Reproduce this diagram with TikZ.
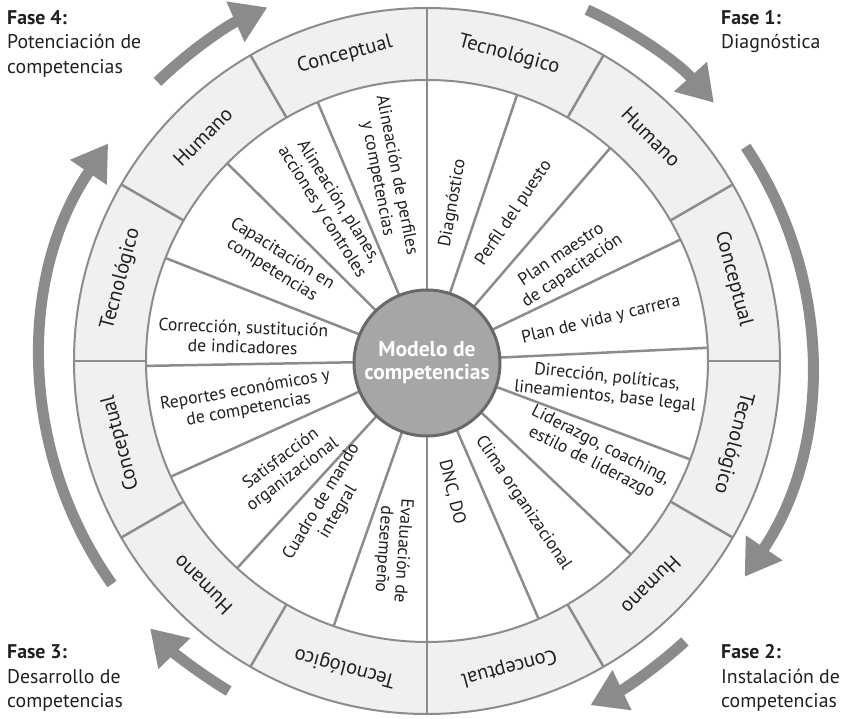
\documentclass[tikz,border=0pt]{standalone}
\usepackage{fontspec}
\setmainfont{PT Sans}
\usetikzlibrary{arrows.meta}
\definecolor{ringgray}{RGB}{140,140,142}
\definecolor{bandfill}{RGB}{240,240,242}
\definecolor{hubfill}{RGB}{166,166,168}
\definecolor{hubline}{RGB}{105,105,107}
\definecolor{arrowgray}{RGB}{138,139,141}
\definecolor{textgray}{RGB}{35,31,32}

\tikzset{
  wedge/.style={align=center, inner sep=0pt, text=textgray, font=\fontsize{17.6}{19.5}\selectfont},
  bandlabel/.style={inner sep=0pt, text=textgray, font=\fontsize{20.5}{22}\selectfont},
  phase/.style={anchor=north west, align=left, inner sep=0pt, text=textgray, font=\fontsize{19.8}{24.5}\selectfont},
  cycle arrow/.style={draw=arrowgray, line width=11pt, -{Triangle[length=35pt,width=42pt]}},
  divider/.style={draw=ringgray, line width=2.5pt},
}

\begin{document}
\begin{tikzpicture}[x=1pt, y=1pt]
\useasboundingbox (-427,-358) rectangle (415,361);

% outer ring
\fill[bandfill] (0,0) circle[radius=353];
\fill[white] (0,0) circle[radius=281];
\draw[ringgray, line width=2pt] (0,0) circle[radius=353];
\draw[ringgray, line width=2pt] (0,0) circle[radius=281];
\foreach \a in {0,30,...,330}
  \draw[divider] (\a:281) -- (\a:353);

% spokes
\foreach \a in {90,71.3,49.3,25.6,2.7,-20.5,-43.5,-66.6,-90,-109.4,-132.5,-155.7,181,158.5,135.3,112.9}
  \draw[divider] (0,0) -- (\a:281);

% hub
\node[circle, draw=hubline, line width=3pt, fill=hubfill, minimum size=146pt, inner sep=0pt,
  text=white, font=\bfseries\fontsize{21.5}{23}\selectfont, align=center] (hub) at (0,-2) {Modelo de\\competencias};

% ring labels
\foreach \q in {0,...,3}
  \foreach \i/\lab in {0/Tecnológico,1/Humano,2/Conceptual}
    \node[bandlabel, rotate={75-90*\q-30*\i-90}] (band-\q-\i) at ({75-90*\q-30*\i}:317) {\lab};

% wedge texts
\foreach \x/\y/\rot/\txt [count=\n] in {
    26/158/80/Diagnóstico,
    87/148/56/Perfil del puesto,
    140/98/34/{Plan maestro\\de capacitación},
    174/41/13.5/Plan de vida y carrera,
    179/-26/-6/{Dirección, políticas,\\lineamientos, base legal},
    169/-93/-27/{Liderazgo, coaching,\\estilo de liderazgo},
    96/-142/-56/Clima organizacional,
    25/-131/-76/{DNC, DO},
    -34/-189/-94/{Evaluación de\\desempeño},
    -97/-146/59/{Cuadro de mando\\integral},
    -140/-106/37/{Satisfacción\\organizacional},
    -180/-39/10/{Reportes económicos y\\de competencias},
    -184/24/-2/{Corrección, sustitución\\de indicadores},
    -150/99/-32/{Capacitación en\\competencias},
    -97/154/-58/{Alineación, planes,\\acciones y controles},
    -40/184/-79/{Alineación de perfiles\\y competencias}}
  \node[wedge, rotate=\rot] (wedge\n) at (\x,\y) {\txt};

% cycle arrows
\draw[cycle arrow] (134:388) arc[start angle=134, end angle=114.3, radius=388pt];
\draw[cycle arrow] (65.5:386) arc[start angle=65.5, end angle=42, radius=386pt];
\draw[cycle arrow] (33.9:384) arc[start angle=33.9, end angle=-34.2, radius=384pt];
\draw[cycle arrow] (-47.4:381) arc[start angle=-47.4, end angle=-64.6, radius=381pt];
\draw[cycle arrow] (-121:385) arc[start angle=-121, end angle=-136, radius=385pt];
\draw[cycle arrow] (-144.7:386) arc[start angle=-144.7, end angle=-214.3, radius=386pt];

% phase labels
\node[phase] (fase4) at (-420,351) {\textbf{Fase 4:}\\Potenciación de\\competencias};
\node[phase] (fase1) at (294,351) {\textbf{Fase 1:}\\Diagnóstica};
\node[phase] (fase2) at (294,-283.5) {\textbf{Fase 2:}\\Instalación de\\competencias};
\node[phase] (fase3) at (-420,-283.5) {\textbf{Fase 3:}\\Desarrollo de\\competencias};

\end{tikzpicture}
\end{document}
